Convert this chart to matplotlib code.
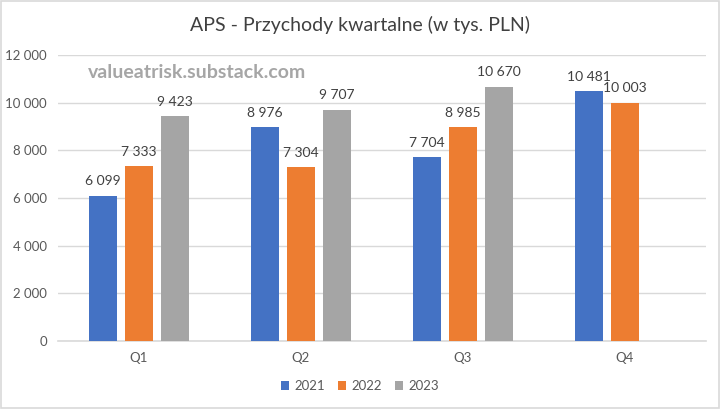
import matplotlib
matplotlib.use("Agg")
import matplotlib.pyplot as plt
from matplotlib.patches import Rectangle
import numpy as np

categories = ["Q1", "Q2", "Q3", "Q4"]
years = ["2021", "2022", "2023"]
v2021 = [6099, 8976, 7704, 10481]
v2022 = [7333, 7304, 8985, 10003]
v2023 = [9423, 9707, 10670, None]
yticks = [0, 2000, 4000, 6000, 8000, 10000, 12000]
colors = ["#4472C4", "#ED7D31", "#A5A5A5"]

plt.rcParams['font.family'] = ['Lato', 'DejaVu Sans']

def fmt(v):
    return f"{int(v):,}".replace(",", " ")

fig = plt.figure(figsize=(7.2, 4.09), dpi=100)
ax = fig.add_axes([58/720, 1-341/409, 648/720, 286/409])

x = np.arange(len(categories))
width = 0.173
step = 0.223
series = [v2021, v2022, v2023]
for i, (vals, c, yr) in enumerate(zip(series, colors, years)):
    xs = [xi + (i-1)*step for xi, v in zip(x, vals) if v is not None]
    vs = [v for v in vals if v is not None]
    ax.bar(xs, vs, width=width, color=c, label=yr, zorder=3)
    for xx, vv in zip(xs, vs):
        ax.annotate(fmt(vv), (xx, vv), xytext=(0, 6), textcoords="offset points",
                    ha="center", va="bottom", fontsize=10, color="#404040")

ax.set_xlim(-0.5, 3.5)
ax.set_ylim(0, 12000)
ax.set_yticks(yticks)
ax.set_yticklabels([fmt(t) for t in yticks], fontsize=9.5, color="#595959")
ax.set_xticks(x)
ax.set_xticklabels(categories, fontsize=9.5, color="#595959")
ax.tick_params(length=0, pad=8)
ax.tick_params(axis='x', pad=8)
ax.grid(axis='y', color="#D9D9D9", linewidth=1, zorder=0)
for s in ["top", "right", "left"]:
    ax.spines[s].set_visible(False)
ax.spines["bottom"].set_color("#D9D9D9")
ax.spines["bottom"].set_linewidth(1.2)

fig.text(0.5, 1-25/409, "APS - Przychody kwartalne (w tys. PLN)", ha="center", va="center",
         fontsize=14, color="#404040")
fig.text(88/720, 1-73/409, "valueatrisk.substack.com", ha="left", va="center",
         fontsize=14, fontweight="bold", color="#A6A6A6")

leg = fig.legend(loc="center", bbox_to_anchor=(0.5, 1-386/409), ncol=3, frameon=False,
                 fontsize=9.5, handlelength=0.6, handleheight=0.6, handletextpad=0.4,
                 columnspacing=1.0)
for t in leg.get_texts():
    t.set_color("#595959")

fig.patches.append(Rectangle((0.002, 0.003), 0.996, 0.994, transform=fig.transFigure,
                             fill=False, edgecolor="#D9D9D9", linewidth=1.2))

fig.savefig("out.png", dpi=100)
